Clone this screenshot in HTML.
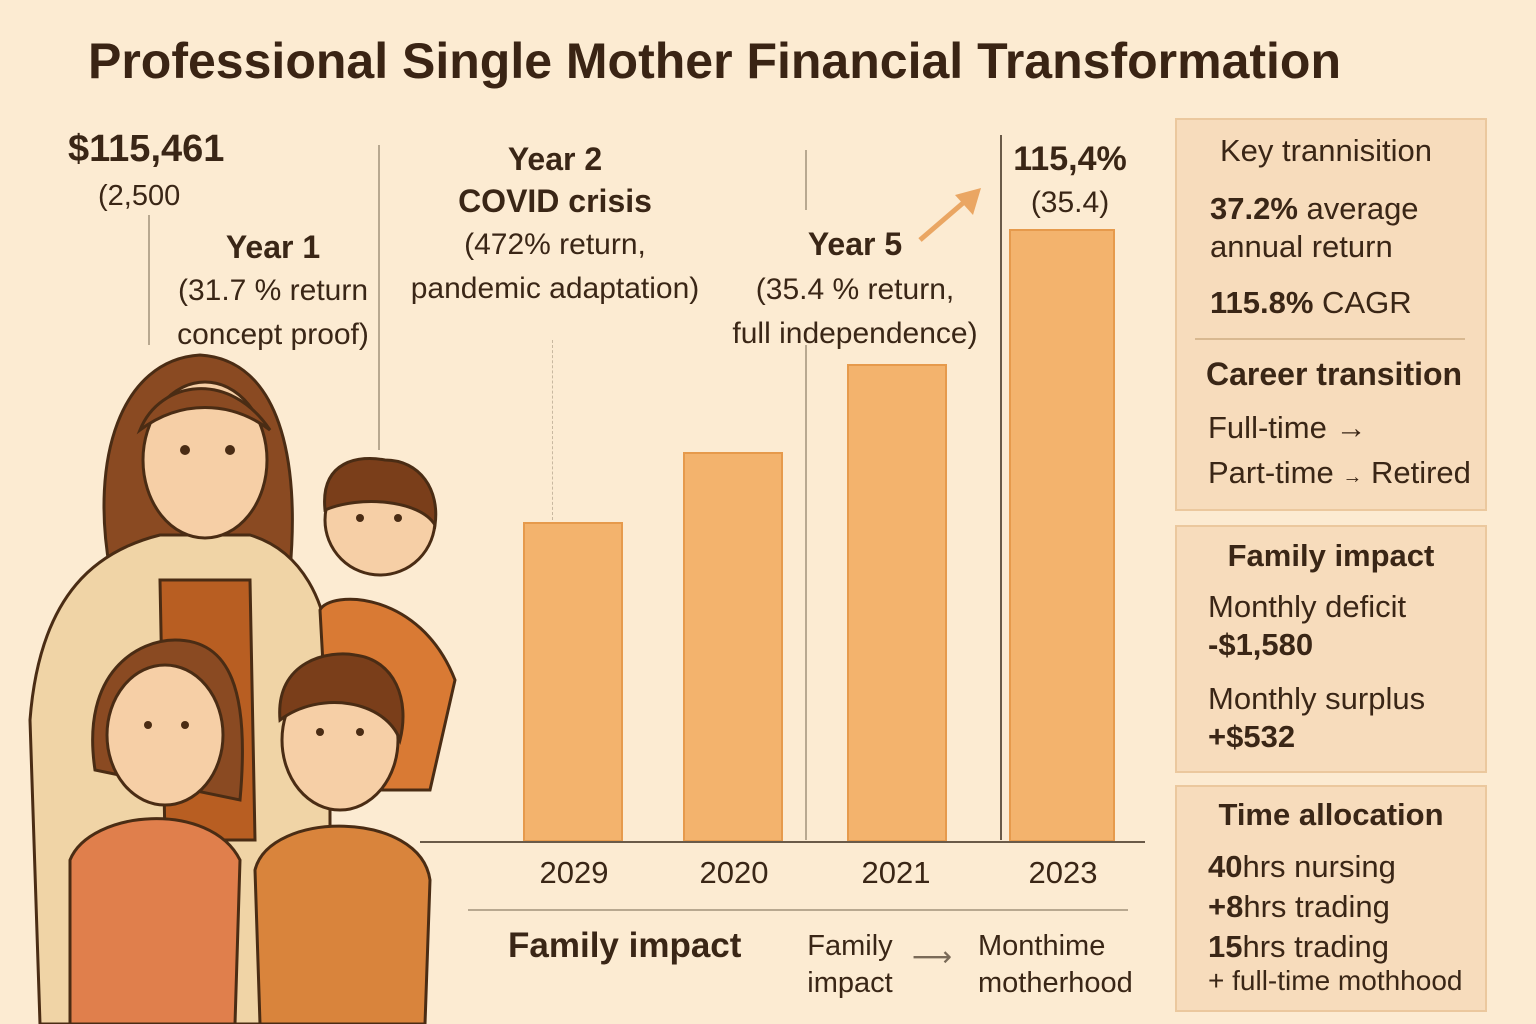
<!DOCTYPE html>
<html><head><meta charset="utf-8"><style>
body{margin:0;width:1536px;height:1024px;background:#fcebd2;font-family:"Liberation Sans","DejaVu Sans",sans-serif;color:#3a2616;position:relative;overflow:hidden}
.t{position:absolute;white-space:nowrap}
.c{text-align:center}
.bar{position:absolute;background:#f3b36d;border:2px solid #e69a4c;box-sizing:border-box;bottom:182px}
.vl{position:absolute;width:1.5px;background:#b8a890}
.panel{position:absolute;left:1175px;width:312px;background:#f7dcbc;border:2px solid #ebc89e;box-sizing:border-box}
</style></head><body>
<div class="t" style="left:88px;top:32px;font-size:50px;font-weight:bold;color:#3a2414">Professional Single Mother Financial Transformation</div>

<div class="t" style="left:68px;top:128px;font-size:38px;font-weight:bold">$115,461</div>
<div class="t" style="left:98px;top:180px;font-size:29px">(2,500</div>
<div class="t c" style="left:168px;top:226px;width:210px;font-size:32px;line-height:42px"><b>Year 1</b><br><span style="font-size:30px">(31.7 % return<br>concept proof)</span></div>
<div class="t c" style="left:400px;top:138px;width:310px;font-size:32px;line-height:42px"><b>Year 2<br>COVID crisis</b><br><span style="font-size:30px">(472% return,<br>pandemic adaptation)</span></div>
<div class="t c" style="left:725px;top:222px;width:260px;font-size:30px;line-height:44px"><b style="font-size:32px">Year 5</b><br>(35.4 % return,<br>full independence)</div>
<div class="t c" style="left:1005px;top:138px;width:130px;font-size:34px;line-height:42px"><b>115,4%</b><br><span style="font-size:30px">(35.4)</span></div>
<svg class="t" style="left:915px;top:185px" width="70" height="60"><line x1="5" y1="55" x2="55" y2="12" stroke="#eaa663" stroke-width="5"/><polygon points="66,3 40,10 58,30" fill="#eaa663"/></svg>

<div class="vl" style="left:148px;top:215px;height:130px"></div>
<div class="vl" style="left:378px;top:145px;height:305px"></div>
<div class="vl" style="left:552px;top:340px;height:180px;background:none;border-left:1.5px dashed #c8b8a0"></div>
<div class="vl" style="left:805px;top:150px;height:60px"></div>
<div class="vl" style="left:805px;top:345px;height:495px"></div>
<div class="vl" style="left:1000px;top:135px;height:705px;background:#6a5a48"></div>

<div class="bar" style="left:523px;width:100px;height:320px"></div>
<div class="bar" style="left:683px;width:100px;height:390px"></div>
<div class="bar" style="left:847px;width:100px;height:478px"></div>
<div class="bar" style="left:1009px;width:106px;height:613px"></div>
<div style="position:absolute;left:420px;top:841px;width:725px;height:2px;background:#6a5a48"></div>

<div class="t c" style="left:524px;top:855px;width:100px;font-size:31px">2029</div>
<div class="t c" style="left:684px;top:855px;width:100px;font-size:31px">2020</div>
<div class="t c" style="left:846px;top:855px;width:100px;font-size:31px">2021</div>
<div class="t c" style="left:1013px;top:855px;width:100px;font-size:31px">2023</div>
<div style="position:absolute;left:468px;top:909px;width:660px;height:1.5px;background:#b8a890"></div>
<div class="t" style="left:508px;top:926px;font-size:35px;font-weight:bold">Family impact</div>
<div class="t c" style="left:790px;top:928px;width:120px;font-size:29px;line-height:37px">Family<br>impact</div>
<div class="t" style="left:912px;top:940px;font-size:28px;color:#7a6a58">⟶</div>
<div class="t" style="left:978px;top:928px;font-size:29px;line-height:37px">Monthime<br>motherhood</div>

<div class="panel" style="top:118px;height:393px"></div>
<div class="t" style="left:1220px;top:133px;font-size:31px">Key trannisition</div>
<div class="t" style="left:1210px;top:190px;font-size:31px;line-height:38px"><b>37.2%</b> average<br>annual return</div>
<div class="t" style="left:1210px;top:285px;font-size:31px"><b>115.8%</b> CAGR</div>
<div style="position:absolute;left:1195px;top:338px;width:270px;height:1.5px;background:#d8b890"></div>
<div class="t" style="left:1206px;top:356px;font-size:32px;font-weight:bold">Career transition</div>
<div class="t" style="left:1208px;top:410px;font-size:31px">Full-time →</div>
<div class="t" style="left:1208px;top:455px;font-size:31px">Part-time <span style="font-size:20px">→</span> Retired</div>

<div class="panel" style="top:525px;height:248px"></div>
<div class="t c" style="left:1175px;top:538px;width:312px;font-size:31px;font-weight:bold">Family impact</div>
<div class="t" style="left:1208px;top:588px;font-size:31px;line-height:38px">Monthly deficit<br><b>-$1,580</b></div>
<div class="t" style="left:1208px;top:680px;font-size:31px;line-height:38px">Monthly surplus<br><b>+$532</b></div>

<div class="panel" style="top:785px;height:227px"></div>
<div class="t c" style="left:1175px;top:797px;width:312px;font-size:31px;font-weight:bold">Time allocation</div>
<div class="t" style="left:1208px;top:847px;font-size:31px;line-height:40px"><b>40</b>hrs nursing<br><b>+8</b>hrs trading<br><b>15</b>hrs trading</div>
<div class="t" style="left:1208px;top:965px;font-size:28px">+ full-time mothhood</div>

<svg class="t" style="left:0;top:340px" width="470" height="684">
<g stroke="#4a2c14" stroke-width="3">
<path d="M110,230 C90,120 120,20 200,15 C280,20 300,120 290,230 Z" fill="#8a4a22"/>
<path d="M40,684 L30,380 C40,250 100,210 160,195 L250,195 C300,210 330,260 330,330 L330,684 Z" fill="#f0d4a6"/>
<path d="M160,240 L250,240 L255,500 L165,500 Z" fill="#b85e22"/>
<ellipse cx="205" cy="120" rx="62" ry="78" fill="#f6cfa6"/>
<path d="M140,90 C160,40 230,30 270,90 C230,60 180,60 140,90 Z" fill="#8a4a22"/>
<circle cx="380" cy="180" r="55" fill="#f6cfa6"/>
<path d="M325,170 C320,120 360,115 385,120 C420,120 440,150 435,185 C420,160 360,155 325,170Z" fill="#7a3e1a"/>
<path d="M320,270 C330,250 420,250 455,340 L430,450 L330,450 Z" fill="#d97a34"/>
<path d="M95,430 C80,330 140,300 175,300 C230,300 250,350 240,460 Z" fill="#8a4a22"/>
<ellipse cx="165" cy="395" rx="58" ry="70" fill="#f6cfa6"/>
<path d="M70,520 C90,470 210,460 240,520 L235,684 L70,684 Z" fill="#e07f4c"/>
<ellipse cx="340" cy="400" rx="58" ry="70" fill="#f6cfa6"/>
<path d="M280,380 C275,320 330,310 355,315 C395,320 410,360 400,400 C385,360 320,350 280,380Z" fill="#7a3e1a"/>
<path d="M255,530 C270,470 420,470 430,540 L425,684 L260,684 Z" fill="#d9843c"/>
</g>
<g fill="#4a2c14"><circle cx="185" cy="110" r="5"/><circle cx="230" cy="110" r="5"/><circle cx="148" cy="385" r="4"/><circle cx="185" cy="385" r="4"/><circle cx="320" cy="392" r="4"/><circle cx="360" cy="392" r="4"/><circle cx="360" cy="178" r="4"/><circle cx="398" cy="178" r="4"/></g>
</svg>
</body></html>
